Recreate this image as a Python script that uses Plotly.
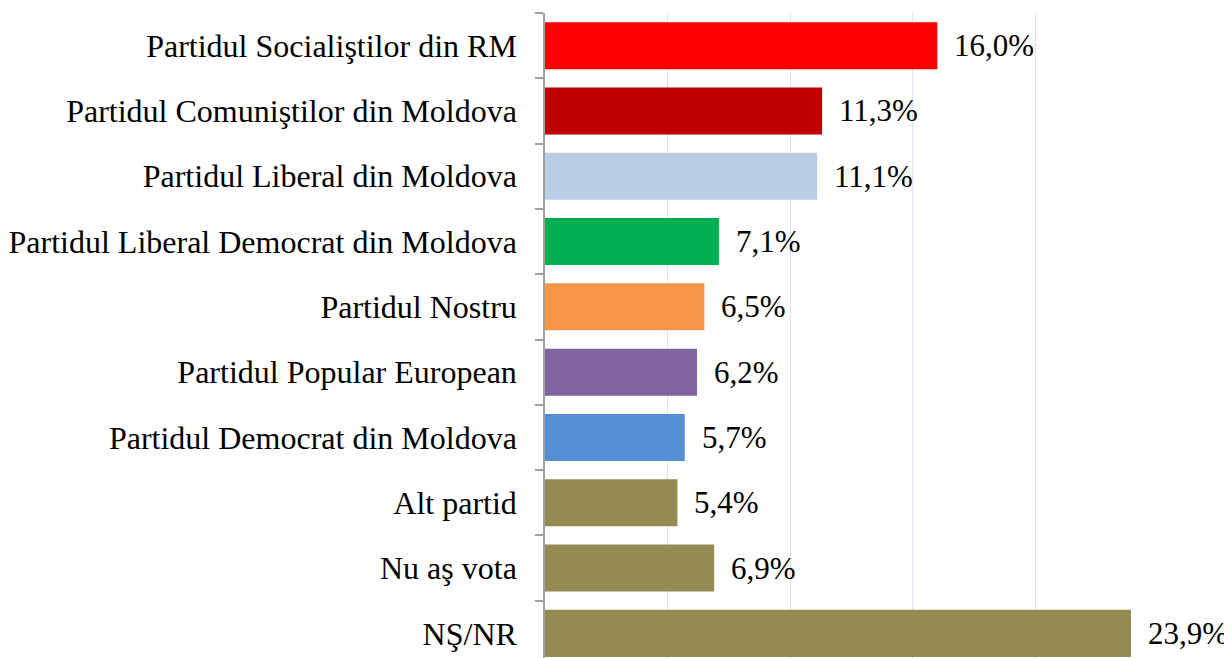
import plotly.graph_objects as go

categories = [
    "Partidul Socialiştilor din RM",
    "Partidul Comuniştilor din Moldova",
    "Partidul Liberal din Moldova",
    "Partidul Liberal Democrat din Moldova",
    "Partidul Nostru",
    "Partidul Popular European",
    "Partidul Democrat din Moldova",
    "Alt partid",
    "Nu aş vota",
    "NŞ/NR",
]
values = [16.0, 11.3, 11.1, 7.1, 6.5, 6.2, 5.7, 5.4, 6.9, 23.9]
colors = ["#FF0000", "#C00000", "#B9CDE5", "#00B050", "#F79646",
          "#8064A2", "#558ED5", "#948A54", "#948A54", "#948A54"]
labels = [f"{v:.1f}%".replace(".", ",") for v in values]

FONT = "Liberation Serif, Times New Roman, serif"

fig = go.Figure()
fig.add_trace(go.Bar(
    x=values, y=categories, orientation="h",
    marker=dict(color=colors, line=dict(width=0)),
    width=0.72, showlegend=False, hoverinfo="skip",
))
for c, v, t in zip(categories, values, labels):
    fig.add_annotation(x=v, y=c, text=t, showarrow=False, xanchor="left",
                       yanchor="middle", xshift=15,
                       font=dict(family=FONT, size=31, color="#000000"))

# page body has an 8px default margin, so the figure is sized to fit the window
fig.update_layout(
    width=1224, height=650,
    margin=dict(l=537, r=74, t=5, b=0, pad=0, autoexpand=False),
    paper_bgcolor="white", plot_bgcolor="white",
    font=dict(family=FONT, size=32, color="#000000"),
)
fig.update_xaxes(range=[0, 25], dtick=5, showgrid=True, gridcolor="#DCE3F0",
                 gridwidth=1, zeroline=False, showticklabels=False,
                 showline=False, ticks="", automargin=False)
fig.update_yaxes(range=[9.377, -0.5], type="category", showline=True,
                 linecolor="#A0A0A0", linewidth=1.5, ticks="outside",
                 tickson="boundaries", ticklen=8, tickcolor="#A0A0A0",
                 tickwidth=1.5, ticklabelstandoff=20, showgrid=False,
                 automargin=False,
                 tickfont=dict(family=FONT, size=32, color="#000000"))

fig.write_html("out.html")
